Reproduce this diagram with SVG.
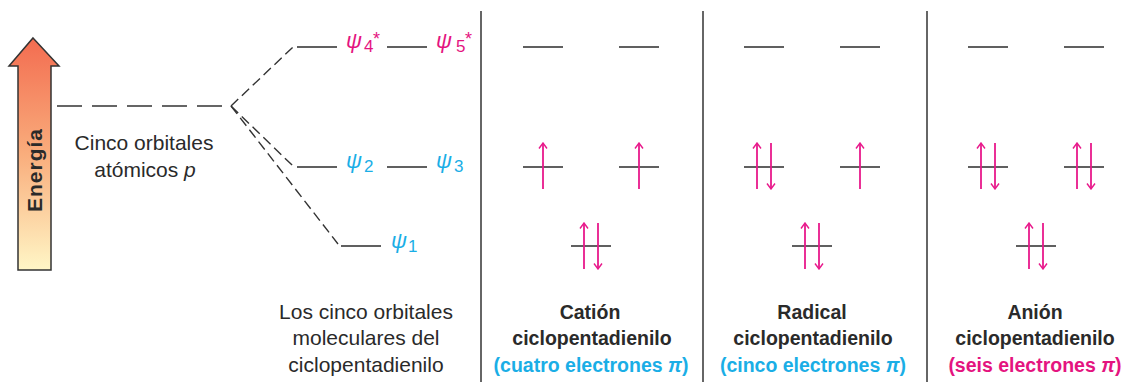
<svg xmlns="http://www.w3.org/2000/svg" width="1140" height="382" viewBox="0 0 1140 382">
<style>
text{font-family:"Liberation Sans",Arial,sans-serif;fill:#2a2a2a}
.reg{font-size:21px;text-anchor:middle}
.bold{font-size:19.5px;font-weight:bold;text-anchor:middle}
.mag{fill:#e4147f}
.cy{fill:#1aaee6}
.psi{font-size:22px;font-style:italic}
.sub{font-size:17px;font-style:normal}
.star{font-size:18px;font-style:normal}
.lvl{stroke:#2b2b2b;stroke-width:1.6}
.sep{stroke:#333;stroke-width:1.5}
.dash{stroke:#333;stroke-width:1.4;fill:none}
.e{stroke:#e8198b;stroke-width:1.8;marker-end:url(#ah)}
</style>
<defs>
<linearGradient id="eg" x1="0" y1="0" x2="0" y2="1">
<stop offset="0" stop-color="#f36c50"/>
<stop offset="0.5" stop-color="#f9ad7c"/>
<stop offset="1" stop-color="#fff6c6"/>
</linearGradient>
<marker id="ah" viewBox="-7 -5 8 10" refX="0" refY="0" markerWidth="8" markerHeight="10" markerUnits="userSpaceOnUse" orient="auto">
<path d="M-5.5,-4 L0,0 L-5.5,4" fill="none" stroke="#e8198b" stroke-width="1.4"/>
</marker>
</defs>

<g id="energy">
<polygon points="33,38 59,66 51,66 51,270 18,270 18,66 9,66" fill="url(#eg)" stroke="#333" stroke-width="1.5"/>
<text x="42" y="170" transform="rotate(-90 42 170)" font-size="21" font-weight="bold" text-anchor="middle" letter-spacing="1" fill="#333">Energía</text>
</g>

<g id="atomic">
<text class="reg" x="144" y="150">Cinco orbitales</text>
<text class="reg" x="145" y="177">atómicos <tspan font-style="italic">p</tspan></text>
</g>

<g id="connectors">
<line class="dash" x1="57" y1="106" x2="222" y2="106" stroke-dasharray="25 10"/>
<path class="dash" d="M231,106 L293,47" stroke-dasharray="10 5"/>
<path class="dash" d="M231,106 L293,166" stroke-dasharray="10 5"/>
<path class="dash" d="M231,106 L338,244" stroke-dasharray="10 5"/>
</g>

<g id="mo-levels">
<line class="lvl" x1="297" y1="47" x2="337" y2="47"/>
<line class="lvl" x1="387" y1="47" x2="427" y2="47"/>
<line class="lvl" x1="297" y1="167" x2="337" y2="167"/>
<line class="lvl" x1="387" y1="167" x2="427" y2="167"/>
<line class="lvl" x1="341" y1="246" x2="381" y2="246"/>
<text class="psi mag" x="346" y="48">ψ<tspan class="sub" x="364" y="52">4</tspan><tspan class="star" x="373" y="45">*</tspan></text>
<text class="psi mag" x="436" y="48">ψ<tspan class="sub" x="456" y="52">5</tspan><tspan class="star" x="465" y="45">*</tspan></text>
<text class="psi cy" x="346" y="168">ψ<tspan class="sub" x="364" y="172">2</tspan></text>
<text class="psi cy" x="436" y="168">ψ<tspan class="sub" x="454" y="172">3</tspan></text>
<text class="psi cy" x="391" y="248">ψ<tspan class="sub" x="408" y="252">1</tspan></text>
<text class="reg" x="366" y="319">Los cinco orbitales</text>
<text class="reg" x="366" y="345">moleculares del</text>
<text class="reg" x="366" y="372">ciclopentadienilo</text>
</g>

<g id="separators">
<line class="sep" x1="481" y1="11" x2="481" y2="382"/>
<line class="sep" x1="703" y1="11" x2="703" y2="382"/>
<line class="sep" x1="927" y1="11" x2="927" y2="382"/>
</g>

<g id="cation">
<line class="lvl" x1="523" y1="47" x2="563" y2="47"/>
<line class="lvl" x1="619" y1="47" x2="659" y2="47"/>
<line class="lvl" x1="523" y1="167" x2="563" y2="167"/>
<line class="lvl" x1="619" y1="167" x2="659" y2="167"/>
<line class="lvl" x1="571" y1="246" x2="611" y2="246"/>
<line class="e" x1="543" y1="189" x2="543" y2="143"/>
<line class="e" x1="639" y1="189" x2="639" y2="143"/>
<line class="e" x1="584" y1="269" x2="584" y2="223"/>
<line class="e" x1="598" y1="223" x2="598" y2="269"/>
<text class="bold" x="590" y="319">Catión</text>
<text class="bold" x="592" y="345">ciclopentadienilo</text>
<text class="bold cy" x="591" y="372">(cuatro electrones <tspan font-style="italic">π</tspan>)</text>
</g>

<g id="radical">
<line class="lvl" x1="744" y1="47" x2="784" y2="47"/>
<line class="lvl" x1="840" y1="47" x2="880" y2="47"/>
<line class="lvl" x1="744" y1="167" x2="784" y2="167"/>
<line class="lvl" x1="840" y1="167" x2="880" y2="167"/>
<line class="lvl" x1="792" y1="246" x2="832" y2="246"/>
<line class="e" x1="757" y1="189" x2="757" y2="143"/>
<line class="e" x1="771" y1="143" x2="771" y2="189"/>
<line class="e" x1="860" y1="189" x2="860" y2="143"/>
<line class="e" x1="805" y1="269" x2="805" y2="223"/>
<line class="e" x1="819" y1="223" x2="819" y2="269"/>
<text class="bold" x="812" y="319">Radical</text>
<text class="bold" x="813" y="345">ciclopentadienilo</text>
<text class="bold cy" x="813" y="372">(cinco electrones <tspan font-style="italic">π</tspan>)</text>
</g>

<g id="anion">
<line class="lvl" x1="968" y1="47" x2="1008" y2="47"/>
<line class="lvl" x1="1064" y1="47" x2="1104" y2="47"/>
<line class="lvl" x1="968" y1="167" x2="1008" y2="167"/>
<line class="lvl" x1="1064" y1="167" x2="1104" y2="167"/>
<line class="lvl" x1="1016" y1="246" x2="1056" y2="246"/>
<line class="e" x1="981" y1="189" x2="981" y2="143"/>
<line class="e" x1="995" y1="143" x2="995" y2="189"/>
<line class="e" x1="1077" y1="189" x2="1077" y2="143"/>
<line class="e" x1="1091" y1="143" x2="1091" y2="189"/>
<line class="e" x1="1029" y1="269" x2="1029" y2="223"/>
<line class="e" x1="1043" y1="223" x2="1043" y2="269"/>
<text class="bold" x="1035" y="319">Anión</text>
<text class="bold" x="1035" y="345">ciclopentadienilo</text>
<text class="bold mag" x="1035" y="372">(seis electrones <tspan font-style="italic">π</tspan>)</text>
</g>
</svg>
